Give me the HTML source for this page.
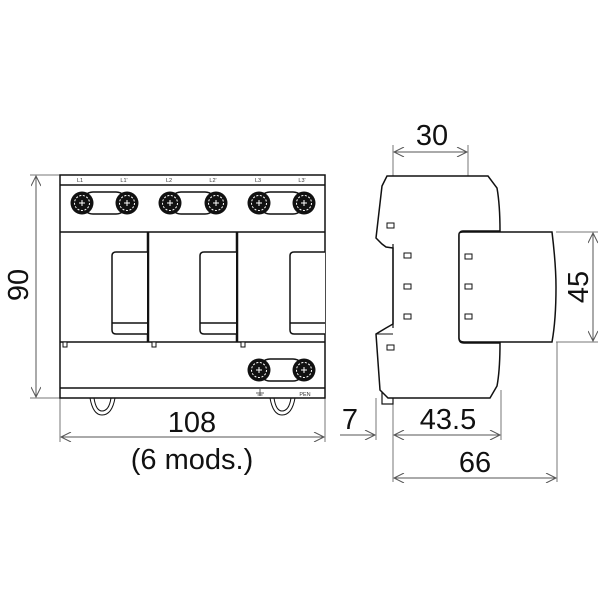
<!DOCTYPE html>
<html><head><style>body{margin:0;background:#fff}svg{display:block}</style></head><body>
<svg width="600" height="600" viewBox="0 0 600 600" xmlns="http://www.w3.org/2000/svg" font-family="Liberation Sans, DejaVu Sans, sans-serif">
<defs>
<g id="term"><circle r="11.5" fill="#111"/><circle r="7.5" fill="none" stroke="#fff" stroke-width="1" stroke-dasharray="2 1.6"/><path d="M-3 0H3M0-3V3" stroke="#fff" stroke-width="1"/></g>
<marker id="ar" viewBox="0 0 10 10" refX="10" refY="5" markerWidth="14" markerHeight="10" orient="auto-start-reverse" markerUnits="userSpaceOnUse"><path d="M0 0L10 5L0 10" fill="none" stroke="#555" stroke-width="1"/></marker>
</defs>
<g stroke="#777" stroke-width="1" fill="none">
<line x1="30" y1="175" x2="60" y2="175"/><line x1="30" y1="398" x2="60" y2="398"/>
<line x1="60" y1="398" x2="60" y2="442"/><line x1="325" y1="398" x2="325" y2="442"/>
<line x1="393" y1="145" x2="393" y2="482"/><line x1="468" y1="145" x2="468" y2="176"/>
<line x1="376" y1="398" x2="376" y2="440"/><line x1="501" y1="390" x2="501" y2="440"/>
<line x1="557" y1="342" x2="557" y2="482"/>
<line x1="556" y1="232" x2="598" y2="232"/><line x1="556" y1="342" x2="598" y2="342"/>
</g>
<g stroke="#555" stroke-width="1" fill="none">
<line x1="36" y1="176" x2="36" y2="397" marker-start="url(#ar)" marker-end="url(#ar)"/>
<line x1="61" y1="437" x2="324" y2="437" marker-start="url(#ar)" marker-end="url(#ar)"/>
<line x1="394" y1="152" x2="467" y2="152" marker-start="url(#ar)" marker-end="url(#ar)"/>
<line x1="394" y1="435" x2="500" y2="435" marker-start="url(#ar)" marker-end="url(#ar)"/>
<line x1="340" y1="435" x2="375" y2="435" marker-end="url(#ar)"/>
<line x1="394" y1="478" x2="556" y2="478" marker-start="url(#ar)" marker-end="url(#ar)"/>
<line x1="593" y1="233" x2="593" y2="341" marker-start="url(#ar)" marker-end="url(#ar)"/>
</g>
<g fill="#111" font-size="29" text-anchor="middle">
<text x="192" y="432">108</text>
<text x="192" y="469">(6 mods.)</text>
<text x="432" y="145">30</text>
<text x="448" y="429">43.5</text>
<text x="350" y="429">7</text>
<text x="475" y="472">66</text>
<text transform="translate(28,285) rotate(-90)">90</text>
<text transform="translate(588,287) rotate(-90)">45</text>
</g>
<g stroke="#111" stroke-width="1" fill="none">
<path d="M90 398 Q93 415 102 415 Q112 415 115 398"/>
<path d="M94 398 Q96 411 102 411 Q109 411 111 398"/>
<path d="M270 398 Q273 415 282 415 Q292 415 295 398"/>
<path d="M274 398 Q276 411 282 411 Q289 411 291 398"/>
</g>
<g stroke="#111" stroke-width="1.5" fill="#fff">
<rect x="60" y="175" width="265" height="223"/>
<line x1="60" y1="185" x2="325" y2="185"/>
<line x1="60" y1="232" x2="325" y2="232"/>
<line x1="60" y1="342" x2="325" y2="342"/>
<line x1="60" y1="388" x2="325" y2="388"/>
<line x1="148" y1="232" x2="148" y2="342" stroke-width="2.5"/>
<line x1="237" y1="232" x2="237" y2="342" stroke-width="2.5"/>
<path d="M147 252H116Q112 252 112 256V330Q112 334 116 334H147"/><line x1="112" y1="323" x2="147" y2="323"/>
<path d="M236 252H204Q200 252 200 256V330Q200 334 204 334H236"/><line x1="200" y1="323" x2="236" y2="323"/>
<path d="M325 252H294Q290 252 290 256V330Q290 334 294 334H325"/><line x1="290" y1="323" x2="325" y2="323"/>
<rect x="63" y="342" width="4" height="5" stroke-width="1"/>
<rect x="152" y="342" width="4" height="5" stroke-width="1"/>
<rect x="241" y="342" width="4" height="5" stroke-width="1"/>
<rect x="82" y="192" width="45" height="22" rx="11"/>
<rect x="170" y="192" width="46" height="22" rx="11"/>
<rect x="259" y="192" width="45" height="22" rx="11"/>
<rect x="259" y="359" width="45" height="22" rx="11"/>
</g>
<use href="#term" x="82" y="203"/><use href="#term" x="127" y="203"/>
<use href="#term" x="170" y="203"/><use href="#term" x="216" y="203"/>
<use href="#term" x="259" y="203"/><use href="#term" x="304" y="203"/>
<use href="#term" x="259" y="370"/><use href="#term" x="304" y="370"/>
<g font-size="5.5" fill="#333" text-anchor="middle">
<text x="80" y="182">L1</text><text x="124" y="182">L1'</text>
<text x="169" y="182">L2</text><text x="213" y="182">L2'</text>
<text x="258" y="182">L3</text><text x="302" y="182">L3'</text>
<text x="305" y="396">PEN</text>
</g>
<path d="M260 389V396M256 393H264M257.5 395H262.5" stroke="#333" stroke-width="0.8"/>
<g stroke="#111" stroke-width="1.5" fill="#fff">
<rect x="382" y="383" width="11" height="21" stroke-width="1.2"/>
<path d="M387 176H488L497 188Q500 205 500 231H463Q459 231 459 236V338Q459 343 464 343H500Q500 370 497 386L490 398H388L380 390L376 334L386 328L393 324V248L386 247L382 244L376 238L382 186Z"/>
<path d="M459 234Q459 232 463 232H552Q556 265 556 287Q556 320 552 342H464Q459 342 459 338Z"/>
<line x1="393" y1="244" x2="393" y2="328" stroke-width="1.2"/>
<path d="M376 334L393 334" stroke-width="1"/>
</g>
<g fill="#fff" stroke="#111" stroke-width="1">
<rect x="387" y="223" width="7" height="5"/><rect x="387" y="345" width="7" height="5"/>
<rect x="404" y="253" width="7" height="5"/><rect x="404" y="284" width="7" height="5"/><rect x="404" y="314" width="7" height="5"/>
<rect x="465" y="254" width="7" height="5"/><rect x="465" y="284" width="7" height="5"/><rect x="465" y="314" width="7" height="5"/>
</g>
</svg>
</body></html>
